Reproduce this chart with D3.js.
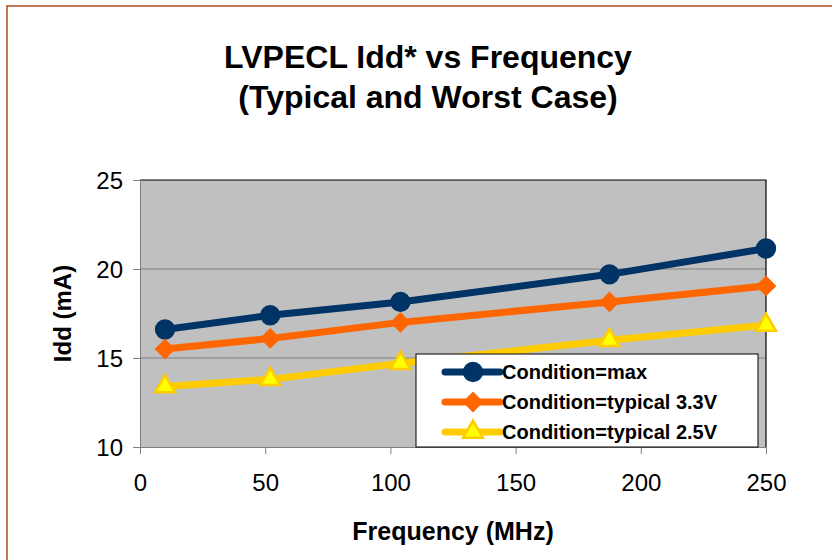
<!DOCTYPE html>
<html lang="en">
<head>
    <meta charset="UTF-8">
    <title>LVPECL Idd vs Frequency</title>
    <script src="https://cdn.jsdelivr.net/npm/d3@7"></script>
    <style>
        body { margin: 0; background: #fff; }
        text { font-family: Arial, "Liberation Sans", sans-serif; }
    </style>
</head>
<body>
<svg id="chart" width="832" height="560"></svg>
<script>
    // data
    var freq = [10, 52, 104, 187.5, 250];
    var iddMax = [16.6, 17.4, 18.15, 19.7, 21.15];
    var idd33 = [15.5, 16.1, 17.0, 18.15, 19.05];
    var idd25 = [13.4, 13.8, 14.7, 16.0, 16.85];
    var seriesNames = ["Condition=max", "Condition=typical 3.3V", "Condition=typical 2.5V"];
    var xTicks = [0, 50, 100, 150, 200, 250];
    var yTicks = [10, 15, 20, 25];

    var svg = d3.select("#chart");

    // outer chart border
    svg.append("rect")
        .attr("x", 7).attr("y", 6)
        .attr("width", 840).attr("height", 570)
        .attr("fill", "none")
        .attr("stroke", "#b04a1a")
        .attr("stroke-width", 1.5);

    var plotL = 140, plotR = 766, plotT = 180, plotB = 447;

    var x = d3.scaleLinear().domain([0, 250]).range([plotL, plotR]);
    var y = d3.scaleLinear().domain([10, 25]).range([plotB, plotT]);

    // plot area
    svg.append("rect")
        .attr("x", plotL).attr("y", plotT)
        .attr("width", plotR - plotL).attr("height", plotB - plotT)
        .attr("fill", "#c0c0c0");

    svg.append("g")
        .selectAll("line")
        .data(yTicks.slice(1, -1))
        .enter().append("line")
        .attr("x1", plotL).attr("x2", plotR)
        .attr("y1", function (d) { return y(d); })
        .attr("y2", function (d) { return y(d); })
        .attr("stroke", "#808080")
        .attr("stroke-width", 1);

    // top and right frame
    svg.append("path")
        .attr("d", "M" + plotL + "," + plotT + "H" + plotR + "V" + plotB)
        .attr("fill", "none")
        .attr("stroke", "#000")
        .attr("stroke-width", 1.2);

    var xAxis = svg.append("g")
        .attr("transform", "translate(0," + plotB + ")")
        .call(d3.axisBottom(x).tickValues(xTicks).tickSize(7).tickPadding(20));
    var yAxis = svg.append("g")
        .attr("transform", "translate(" + plotL + ",0)")
        .call(d3.axisLeft(y).tickValues(yTicks).tickSize(7).tickPadding(10));

    [xAxis, yAxis].forEach(function (g) {
        g.select(".domain").attr("stroke", "#808080");
        g.selectAll(".tick line").attr("stroke", "#808080");
        g.selectAll(".tick text")
            .attr("fill", "#000")
            .style("font-size", "24px")
            .style("font-family", "Arial, 'Liberation Sans', sans-serif");
    });
    xAxis.selectAll(".tick text").attr("dy", "0.71em");
    yAxis.selectAll(".tick text").attr("dy", "0.35em");

    // titles
    var title = svg.append("text")
        .attr("x", 428).attr("y", 68)
        .attr("text-anchor", "middle")
        .style("font-size", "32px")
        .style("font-weight", "bold");
    title.append("tspan").attr("x", 428).text("LVPECL Idd* vs Frequency");
    title.append("tspan").attr("x", 428).attr("dy", 40).text("(Typical and Worst Case)");

    svg.append("text")
        .attr("x", 453).attr("y", 540)
        .attr("text-anchor", "middle")
        .style("font-size", "25px")
        .style("font-weight", "bold")
        .text("Frequency (MHz)");

    svg.append("text")
        .attr("transform", "translate(71," + ((plotT + plotB) / 2) + ") rotate(-90)")
        .attr("text-anchor", "middle")
        .style("font-size", "24px")
        .style("font-weight", "bold")
        .text("Idd (mA)");

    var series = [
        { name: seriesNames[0], values: iddMax, color: "#003366", fill: "#003366", symbol: d3.symbolCircle, size: 250, rot: 0 },
        { name: seriesNames[1], values: idd33, color: "#ff6600", fill: "#ff6600", symbol: d3.symbolSquare, size: 150, rot: 45 },
        { name: seriesNames[2], values: idd25, color: "#ffcc00", fill: "#ffff00", symbol: d3.symbolTriangle, size: 170, rot: 0 }
    ];

    var line = d3.line()
        .x(function (d) { return x(d[0]); })
        .y(function (d) { return y(d[1]); });

    series.forEach(function (s) {
        var pts = freq.map(function (f, i) { return [f, s.values[i]]; });
        svg.append("path")
            .datum(pts)
            .attr("d", line)
            .attr("fill", "none")
            .attr("stroke", s.color)
            .attr("stroke-width", 7)
            .attr("stroke-linejoin", "round");
        svg.append("g")
            .selectAll("path")
            .data(pts)
            .enter().append("path")
            .attr("transform", function (d) {
                return "translate(" + x(d[0]) + "," + y(d[1]) + ") rotate(" + s.rot + ")";
            })
            .attr("d", d3.symbol().type(s.symbol).size(s.size))
            .attr("fill", s.fill)
            .attr("stroke", s.color)
            .attr("stroke-width", 2.5);
    });

    // legend
    var legend = svg.append("g").attr("transform", "translate(416,354)");
    legend.append("rect")
        .attr("width", 342).attr("height", 93)
        .attr("fill", "#fff")
        .attr("stroke", "#000")
        .attr("stroke-width", 1);

    var rows = legend.selectAll("g.row")
        .data(series)
        .enter().append("g")
        .attr("class", "row")
        .attr("transform", function (d, i) { return "translate(0," + (18 + i * 30) + ")"; });
    rows.append("line")
        .attr("x1", 29).attr("x2", 84)
        .attr("stroke", function (d) { return d.color; })
        .attr("stroke-width", 7)
        .attr("stroke-linecap", "round");
    rows.append("path")
        .attr("transform", function (d) { return "translate(57,0) rotate(" + d.rot + ")"; })
        .attr("d", function (d) { return d3.symbol().type(d.symbol).size(d.size)(); })
        .attr("fill", function (d) { return d.fill; })
        .attr("stroke", function (d) { return d.color; })
        .attr("stroke-width", 2.5);
    rows.append("text")
        .attr("x", 86).attr("dy", "0.36em")
        .style("font-size", "20px")
        .style("font-weight", "bold")
        .text(function (d) { return d.name; });
</script>
</body>
</html>
